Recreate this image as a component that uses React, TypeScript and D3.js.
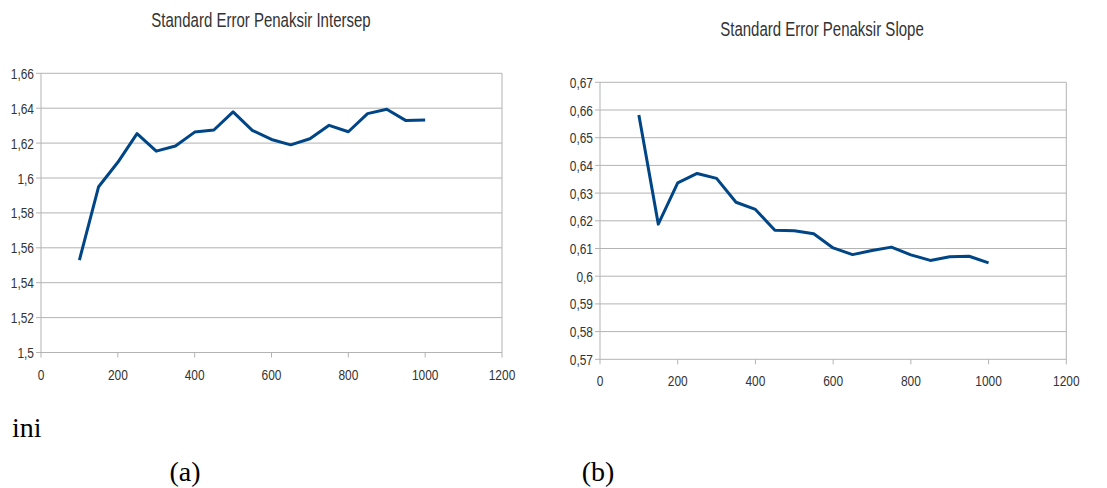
import React from "react";
import * as d3 from "d3";

const sampleSizes = [100, 150, 200, 250, 300, 350, 400, 450, 500, 550, 600, 650, 700, 750, 800, 850, 900, 950, 1000];
const seIntercept = [1.553, 1.595, 1.609, 1.6254, 1.6154, 1.6183, 1.6263, 1.6275, 1.6379, 1.6273, 1.6221, 1.619, 1.6225, 1.6302, 1.6265, 1.6369, 1.6394, 1.6329, 1.6333];
const seSlope = [0.6582, 0.6188, 0.6337, 0.6371, 0.6353, 0.6267, 0.6241, 0.6166, 0.6164, 0.6153, 0.6102, 0.6078, 0.6093, 0.6105, 0.6077, 0.6057, 0.607, 0.6072, 0.6048];
const xTicks = [0, 200, 400, 600, 800, 1000, 1200];
const yTicksIntercept = [1.5, 1.52, 1.54, 1.56, 1.58, 1.6, 1.62, 1.64, 1.66];
const yTicksSlope = [0.57, 0.58, 0.59, 0.6, 0.61, 0.62, 0.63, 0.64, 0.65, 0.66, 0.67];
const titleIntercept = "Standard Error Penaksir Intersep";
const titleSlope = "Standard Error Penaksir Slope";

const FONT = "'Liberation Sans', Arial, sans-serif";
const SERIF = "'Liberation Serif', 'Times New Roman', serif";
const GRID = "#b3b3b3";
const LINE = "#004586";
const TEXT = "#333333";
const SX = 0.77;

type TProps = {
  x: number;
  y: number;
  size: number;
  anchor?: string;
  dy?: string;
  children: React.ReactNode;
};

function NarrowText({ x, y, size, anchor = "start", dy, children }: TProps) {
  return (
    <text
      transform={`translate(${x},${y}) scale(${SX},1)`}
      textAnchor={anchor}
      dy={dy}
      fontFamily={FONT}
      fontSize={size}
      fill={TEXT}
    >
      {children}
    </text>
  );
}

type ChartProps = {
  title: string;
  titleX: number;
  titleY: number;
  xs: number[];
  ys: number[];
  yTicks: number[];
  yDomain: [number, number];
  left: number;
  right: number;
  top: number;
  bottom: number;
  xLabelY: number;
};

const fmt = (v: number) => String(+v.toFixed(4)).replace(".", ",");

function LineChart(p: ChartProps) {
  const x = d3.scaleLinear().domain([0, 1200]).range([p.left, p.right]);
  const y = d3.scaleLinear().domain(p.yDomain).range([p.bottom, p.top]);
  const line = d3
    .line<number>()
    .x((_, i) => x(p.xs[i]))
    .y((d) => y(d));
  return (
    <g>
      <NarrowText x={p.titleX} y={p.titleY} size={19.5} anchor="middle">
        {p.title}
      </NarrowText>
      {p.yTicks.map((t) => (
        <g key={"y" + t}>
          <line x1={p.left - 5} x2={p.right} y1={y(t)} y2={y(t)} stroke={GRID} strokeWidth={1} />
          <NarrowText x={p.left - 7} y={y(t)} dy="0.36em" size={15.5} anchor="end">
            {fmt(t)}
          </NarrowText>
        </g>
      ))}
      {xTicks.map((t) => (
        <g key={"x" + t}>
          <line x1={x(t)} x2={x(t)} y1={p.bottom} y2={p.bottom + 5} stroke={GRID} strokeWidth={1} />
          <NarrowText x={x(t)} y={p.xLabelY} size={15.5} anchor="middle">
            {t}
          </NarrowText>
        </g>
      ))}
      <line x1={p.left} x2={p.left} y1={p.top} y2={p.bottom} stroke={GRID} strokeWidth={1} />
      <line x1={p.right} x2={p.right} y1={p.top} y2={p.bottom} stroke={GRID} strokeWidth={1} />
      <path d={line(p.ys) || ""} fill="none" stroke={LINE} strokeWidth={3} strokeLinejoin="round" />
    </g>
  );
}

export default function App() {
  return (
    <svg
      width={1107}
      height={488}
      style={{ position: "absolute", left: 0, top: 0, background: "#fff" }}
    >
      <rect x={0} y={0} width={1107} height={488} fill="#fff" />
      <LineChart
        title={titleIntercept}
        titleX={261}
        titleY={27}
        xs={sampleSizes}
        ys={seIntercept}
        yTicks={yTicksIntercept}
        yDomain={[1.5, 1.66]}
        left={41}
        right={502}
        top={73.3}
        bottom={352.5}
        xLabelY={380}
      />
      <LineChart
        title={titleSlope}
        titleX={822}
        titleY={36}
        xs={sampleSizes}
        ys={seSlope}
        yTicks={yTicksSlope}
        yDomain={[0.57, 0.67]}
        left={600}
        right={1066.3}
        top={82.3}
        bottom={359.3}
        xLabelY={386}
      />
      <text x={12} y={437} fontFamily={SERIF} fontSize={28} fill="#000">
        ini
      </text>
      <text x={185} y={481} textAnchor="middle" fontFamily={SERIF} fontSize={28} fill="#000">
        (a)
      </text>
      <text x={598} y={481} textAnchor="middle" fontFamily={SERIF} fontSize={28} fill="#000">
        (b)
      </text>
    </svg>
  );
}
